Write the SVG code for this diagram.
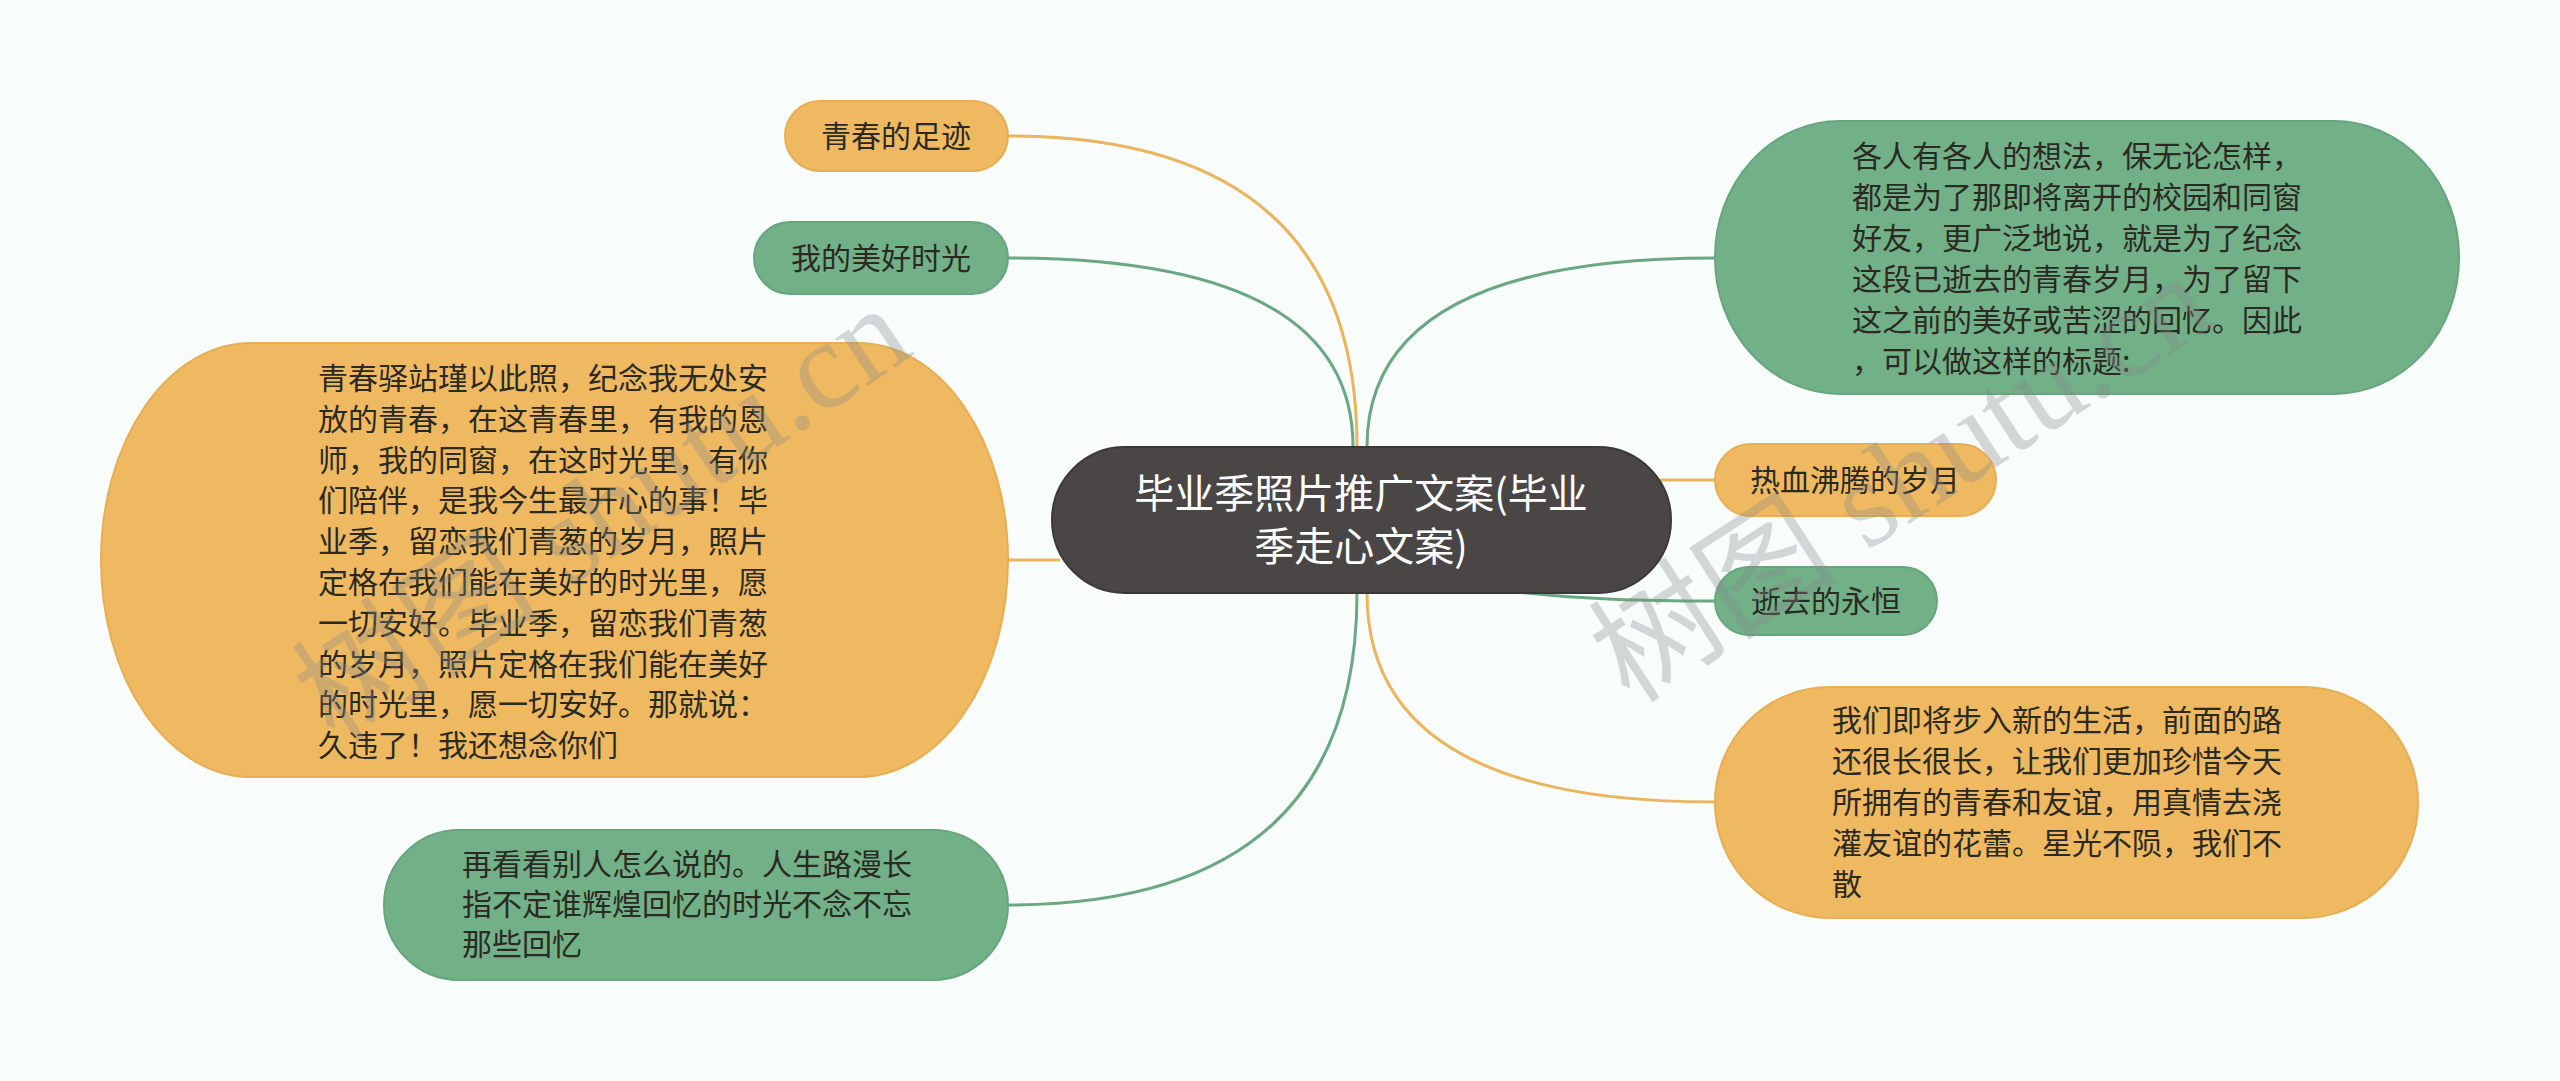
<svg xmlns="http://www.w3.org/2000/svg" width="2560" height="1081" viewBox="0 0 2560 1081">
<style>
.bg{fill:#f8fdfc}
.or{fill:#efb961;stroke:#e6ae55;stroke-width:2}
.gr{fill:#72b088;stroke:#67a57d;stroke-width:2}
.root{fill:#4a4646;stroke:#3c3838;stroke-width:2}
.t{font-family:"Noto Sans CJK SC","Noto Sans",sans-serif;font-size:30px;fill:#2a2a22}
.c{text-anchor:middle}
.rt{font-family:"Noto Sans CJK SC","Noto Sans",sans-serif;font-size:40px;fill:#ffffff;text-anchor:middle}
.lo{fill:none;stroke:#ebb45e;stroke-width:3}
.lg{fill:none;stroke:#6aa882;stroke-width:3}
.wm{font-family:"Liberation Serif","Noto Sans CJK SC",serif;font-size:125px;fill:#8a8a8a;opacity:0.33}
</style>
<rect class="bg" x="0" y="0" width="2560" height="1081"/>
<g id="connectors">
<path class="lo" d="M1008,136 Q1357,136 1357,447"/>
<path class="lg" d="M1008,258 Q1353,258 1353,447"/>
<path class="lo" d="M1008,560 L1060,560"/>
<path class="lg" d="M1008,905 Q1357,905 1357,593"/>
<path class="lg" d="M1367,447 Q1367,258 1715,258"/>
<path class="lo" d="M1660,480 L1715,480"/>
<path class="lg" d="M1500,590 C1580,600 1650,601 1715,601"/>
<path class="lo" d="M1367,593 Q1367,802 1715,802"/>
</g>
<g id="node-left-1">
<rect class="or" x="785" y="101" width="223" height="70" rx="35" ry="35"/>
<text class="t c" x="896" y="147">青春的足迹</text>
</g>
<g id="node-left-2">
<rect class="gr" x="754" y="222" width="254" height="72" rx="36" ry="36"/>
<text class="t c" x="881" y="269">我的美好时光</text>
</g>
<g id="node-left-3">
<rect class="or" x="101" y="343" width="907" height="434" rx="150" ry="217"/>
<text class="t" x="318" y="389">青春驿站瑾以此照，纪念我无处安</text>
<text class="t" x="318" y="430">放的青春，在这青春里，有我的恩</text>
<text class="t" x="318" y="471">师，我的同窗，在这时光里，有你</text>
<text class="t" x="318" y="511">们陪伴，是我今生最开心的事！毕</text>
<text class="t" x="318" y="552">业季，留恋我们青葱的岁月，照片</text>
<text class="t" x="318" y="593">定格在我们能在美好的时光里，愿</text>
<text class="t" x="318" y="634">一切安好。毕业季，留恋我们青葱</text>
<text class="t" x="318" y="675">的岁月，照片定格在我们能在美好</text>
<text class="t" x="318" y="715">的时光里，愿一切安好。那就说：</text>
<text class="t" x="318" y="756">久违了！我还想念你们</text>
</g>
<g id="node-left-4">
<rect class="gr" x="384" y="830" width="624" height="150" rx="75" ry="75"/>
<text class="t" x="462" y="875">再看看别人怎么说的。人生路漫长</text>
<text class="t" x="462" y="915">指不定谁辉煌回忆的时光不念不忘</text>
<text class="t" x="462" y="955">那些回忆</text>
</g>
<g id="node-right-1">
<rect class="gr" x="1715" y="121" width="744" height="273" rx="125" ry="136"/>
<text class="t" x="1852" y="167">各人有各人的想法，保无论怎样，</text>
<text class="t" x="1852" y="208">都是为了那即将离开的校园和同窗</text>
<text class="t" x="1852" y="249">好友，更广泛地说，就是为了纪念</text>
<text class="t" x="1852" y="290">这段已逝去的青春岁月，为了留下</text>
<text class="t" x="1852" y="331">这之前的美好或苦涩的回忆。因此</text>
<text class="t" x="1852" y="372">，可以做这样的标题:</text>
</g>
<g id="node-right-2">
<rect class="or" x="1715" y="444" width="281" height="72" rx="36" ry="36"/>
<text class="t c" x="1855" y="491">热血沸腾的岁月</text>
</g>
<g id="node-right-3">
<rect class="gr" x="1715" y="567" width="222" height="68" rx="34" ry="34"/>
<text class="t c" x="1826" y="612">逝去的永恒</text>
</g>
<g id="node-right-4">
<rect class="or" x="1715" y="687" width="703" height="231" rx="115" ry="115"/>
<text class="t" x="1832" y="731">我们即将步入新的生活，前面的路</text>
<text class="t" x="1832" y="772">还很长很长，让我们更加珍惜今天</text>
<text class="t" x="1832" y="813">所拥有的青春和友谊，用真情去浇</text>
<text class="t" x="1832" y="854">灌友谊的花蕾。星光不陨，我们不</text>
<text class="t" x="1832" y="895">散</text>
</g>
<g id="root">
<rect class="root" x="1052" y="447" width="619" height="146" rx="73" ry="73"/>
<text class="rt" x="1361" y="508">毕业季照片推广文案(毕业</text>
<text class="rt" x="1361" y="561">季走心文案)</text>
</g>
<g id="watermark">
<text class="wm" x="335" y="745" transform="rotate(-34 335 745)">树图 shutu.cn</text>
<text class="wm" x="1630" y="705" transform="rotate(-33 1630 705)">树图 shutu.cn</text>
</g>
</svg>
